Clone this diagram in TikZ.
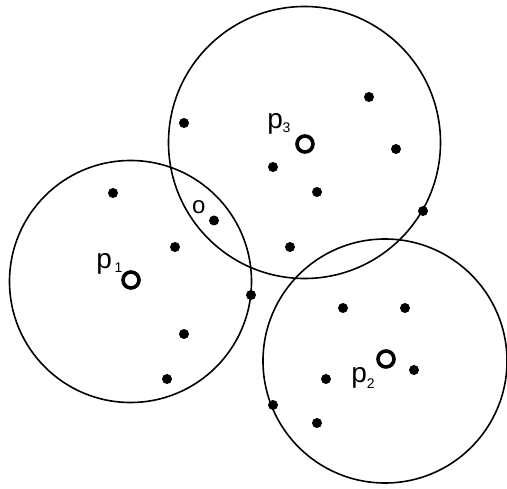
\documentclass[tikz,border=0pt]{standalone}
\usepackage{fontspec}
\setmainfont{Liberation Sans}
\begin{document}
\begin{tikzpicture}[x=1pt,y=-1pt,
  bigcircle/.style={draw=black,line width=1.6pt},
  dot/.style={circle,fill=black,inner sep=0pt,minimum size=10pt},
  site/.style={circle,draw=black,line width=3.6pt,inner sep=0pt,minimum size=16pt,fill=white},
  lbl/.style={anchor=base west,inner sep=0pt,font=\fontsize{28}{32}\selectfont},
  olbl/.style={anchor=base west,inner sep=0pt,font=\fontsize{24}{28}\selectfont},
  sublbl/.style={anchor=base west,inner sep=0pt,font=\fontsize{14}{16}\selectfont}]
\useasboundingbox (0,0) rectangle (507,489);
\fill[white] (0,0) rectangle (507,489);
% big circles
\node[bigcircle,circle,minimum size=242pt,inner sep=0pt] (c1) at (130.5,281.5) {};
\node[bigcircle,circle,minimum size=272pt,inner sep=0pt] (c3) at (304.5,142.5) {};
\node[bigcircle,circle,minimum size=244pt,inner sep=0pt] (c2) at (385,361) {};
% sites
\node[site] (p1) at (131,280) {};
\node[site] (p3) at (305,144) {};
\node[site] (p2) at (386,359) {};
% labels
\node[lbl] (lp1) at (96.2,268.5) {p};
\node[sublbl] (lp1s) at (114.5,272.5) {1};
\node[lbl] (lp3) at (267.2,128.5) {p};
\node[sublbl] (lp3s) at (282.4,132.5) {3};
\node[lbl] (lp2) at (351.2,382.5) {p};
\node[sublbl] (lp2s) at (366.6,389) {2};
\node[olbl] (lo) at (192,213.5) {o};
% dots
\node[dot] (d1) at (113,193) {};
\node[dot] (d2) at (214,220.5) {};
\node[dot] (d3) at (175,247) {};
\node[dot] (d4) at (251,295) {};
\node[dot] (d5) at (184,334) {};
\node[dot] (d6) at (167,379) {};
\node[dot] (d7) at (184,123) {};
\node[dot] (d8) at (369,97) {};
\node[dot] (d9) at (396,149) {};
\node[dot] (d10) at (273,167) {};
\node[dot] (d11) at (317,192) {};
\node[dot] (d12) at (423,211) {};
\node[dot] (d13) at (290,247) {};
\node[dot] (d14) at (343,308) {};
\node[dot] (d15) at (405,308) {};
\node[dot] (d16) at (414,370) {};
\node[dot] (d17) at (326,379) {};
\node[dot] (d18) at (273,405) {};
\node[dot] (d19) at (317,423) {};
\end{tikzpicture}
\end{document}
